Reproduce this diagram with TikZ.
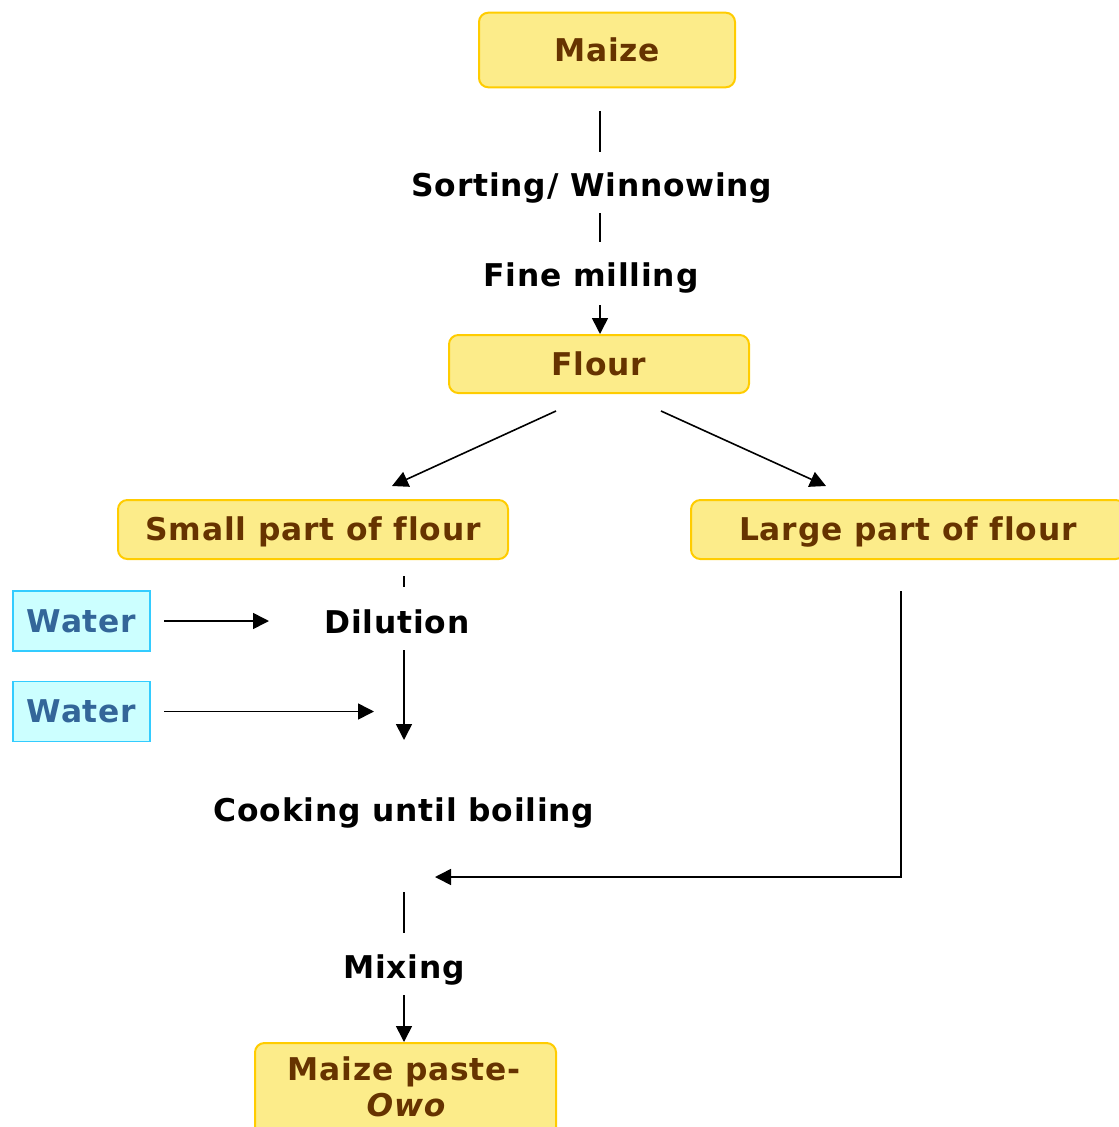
\documentclass[tikz,border=0pt]{standalone}
\usepackage{fontspec}
\setmainfont[Ligatures=NoCommon, LetterSpace=2.5]{DejaVu Sans}
\usetikzlibrary{arrows.meta}
\definecolor{boxfill}{HTML}{FCEC8A}
\definecolor{boxline}{HTML}{FFCC00}
\definecolor{boxtext}{HTML}{663300}
\definecolor{waterfill}{HTML}{CCFFFF}
\definecolor{waterline}{HTML}{33CCFF}
\definecolor{watertext}{HTML}{336699}
\newcommand{\labelfont}{\fontsize{23.5}{28}\selectfont\bfseries}
\tikzset{
  captext/.style={text height=17.1pt, text depth=0pt},
  product/.style={draw=boxline, fill=boxfill, line width=1.5pt, rounded corners=7pt,
    text=boxtext, font=\labelfont, inner sep=0pt, align=center, captext},
  water/.style={draw=waterline, fill=waterfill, line width=1.3pt,
    text=watertext, font=\labelfont, inner sep=0pt, captext,
    minimum width=102.75pt, minimum height=45pt},
  steplabel/.style={font=\labelfont, inner sep=0pt, captext},
  flow/.style={line width=1.2pt},
  flowarrow/.style={line width=1.2pt, -{Triangle[length=12pt,width=12pt]}}
}
\begin{document}
\begin{tikzpicture}[x=0.75pt, y=-0.75pt]
\useasboundingbox (0,0) rectangle (1118,1127);

% products
\node[product, minimum width=192pt, minimum height=56pt] (maize) at (607,50) {Maize};
\node[product, minimum width=225pt, minimum height=43.5pt] (flour) at (599,364) {Flour};
\node[product, minimum width=292.5pt, minimum height=44.25pt] (small) at (313,529.5) {Small part of flour};
\node[product, minimum width=325.5pt, minimum height=44.25pt] (large) at (908,529.5) {Large part of flour};
\node[product, minimum width=225.75pt, minimum height=70pt, anchor=north] (paste) at (405.5,1042) {};
\node[text=boxtext, font=\labelfont, inner sep=0pt, captext] (pastetop) at (404,1069) {Maize paste-};
\node[text=boxtext, font=\labelfont\itshape, inner sep=0pt, captext] (pastebot) at (406,1105) {Owo};

% water inputs
\node[water] (water1) at (81.5,621) {Water};
\node[water] (water2) at (81.5,711.5) {Water};

% process steps
\node[steplabel] (sort) at (592,185) {Sorting/ Winnowing};
\node[steplabel] (mill) at (591,275) {Fine milling};
\node[steplabel] (dilution) at (397,622) {Dilution};
\node[steplabel] (cook) at (404,810) {Cooking until boiling};
\node[steplabel] (mixing) at (404,967) {Mixing};

% free ends of the connectors
\coordinate (m1) at (600,111);
\coordinate (m2) at (600,152);
\coordinate (s1) at (600,213);
\coordinate (s2) at (600,242);
\coordinate (f1) at (600,305);
\coordinate (fl) at (556,411);
\coordinate (fr) at (661,411);
\coordinate (sl) at (392,486);
\coordinate (lr) at (826,486);
\coordinate (d0) at (404,576);
\coordinate (d1) at (404,587);
\coordinate (w1a) at (164,621);
\coordinate (w1b) at (269,621);
\coordinate (w2a) at (164,711.5);
\coordinate (w2b) at (374,711.5);
\coordinate (d2) at (404,650);
\coordinate (d3) at (404,740);
\coordinate (l1) at (901,591);
\coordinate (l2) at (901,877);
\coordinate (mixin) at (435,877);
\coordinate (x1) at (404,892);
\coordinate (x2) at (404,933);
\coordinate (x3) at (404,995);

% connectors
\draw[flow] (m1) -- (m2);
\draw[flow] (s1) -- (s2);
\draw[flowarrow] (f1) -- (flour.north -| f1);
\draw[flowarrow] (fl) -- (sl);
\draw[flowarrow] (fr) -- (lr);
\draw[flow] (d0) -- (d1);
\draw[flowarrow] (w1a) -- (w1b);
\draw[flowarrow] (w2a) -- (w2b);
\draw[flowarrow] (d2) -- (d3);
\draw[flowarrow] (l1) -- (l2) -- (mixin);
\draw[flow] (x1) -- (x2);
\draw[flowarrow] (x3) -- (paste.north -| x3);
\end{tikzpicture}
\end{document}
